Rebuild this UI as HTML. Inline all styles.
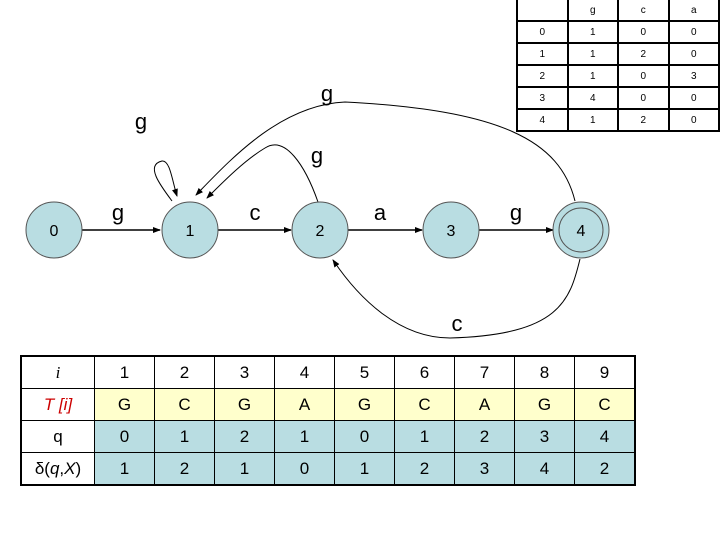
<!DOCTYPE html>
<html><head><style>
body{margin:0;width:720px;height:540px;background:#fff;overflow:hidden;position:relative;font-family:"Liberation Sans",sans-serif}
table{border-collapse:collapse;position:absolute}
#t1{left:516px;top:-2px;font-size:10px}
#t1 td{border:2px solid #000;width:52px;height:20px;text-align:center;padding:0}
#t2{left:20px;top:355px;font-size:17px;border:2px solid #000}
#t2 td{border:1px solid #000;height:31px;text-align:center;padding:0;width:59px}
#t2 td:first-child{width:72px;background:#fff}
.y td{background:#ffffcc}
.b td{background:#b9dde2}
</style></head><body>
<table id="t1">
<tr><td></td><td>g</td><td>c</td><td>a</td></tr>
<tr><td>0</td><td>1</td><td>0</td><td>0</td></tr>
<tr><td>1</td><td>1</td><td>2</td><td>0</td></tr>
<tr><td>2</td><td>1</td><td>0</td><td>3</td></tr>
<tr><td>3</td><td>4</td><td>0</td><td>0</td></tr>
<tr><td>4</td><td>1</td><td>2</td><td>0</td></tr>
</table>
<svg width="720" height="540" style="position:absolute;left:0;top:0" font-family="Liberation Sans" >
<defs><marker id="a" markerWidth="8" markerHeight="8" refX="7" refY="4" orient="auto" markerUnits="userSpaceOnUse"><path d="M0,1 L8,4 L0,7z" fill="#000"/></marker></defs>
<g stroke="#000" fill="none">
<line x1="82" y1="230" x2="160" y2="230" stroke-width="1.5" marker-end="url(#a)"/>
<line x1="218" y1="230" x2="291" y2="230" stroke-width="1.5" marker-end="url(#a)"/>
<line x1="348" y1="230" x2="422" y2="230" stroke-width="1.5" marker-end="url(#a)"/>
<line x1="479" y1="230" x2="553" y2="230" stroke-width="1.5" marker-end="url(#a)"/>
<path d="M172,201 C160,185 145,165 162,161 C170,160 172,180 177,196" marker-end="url(#a)"/>
<path d="M318,202 C305,165 285,135 265,148 C245,160 225,180 207,198" marker-end="url(#a)"/>
<path d="M575,201 C560,140 500,110 345,102 C280,105 230,160 196,195" marker-end="url(#a)"/>
<path d="M580,259 C570,300 560,335 450,338 C400,338 360,300 333,260" marker-end="url(#a)"/>
</g>
<g fill="#b9dde2" stroke="#555" stroke-width="1">
<circle cx="54" cy="230" r="28"/><circle cx="190" cy="230" r="28"/><circle cx="320" cy="230" r="28"/><circle cx="451" cy="230" r="28"/><circle cx="581" cy="230" r="28"/><circle cx="581" cy="230" r="22"/>
</g>
<g font-size="16" text-anchor="middle">
<text x="54" y="236">0</text><text x="190" y="236">1</text><text x="320" y="236">2</text><text x="451" y="236">3</text><text x="581" y="236">4</text>
</g>
<g font-size="22" text-anchor="middle">
<text x="118" y="220">g</text><text x="255" y="220">c</text><text x="380" y="220">a</text><text x="516" y="220">g</text>
<text x="141" y="129">g</text><text x="317" y="163">g</text><text x="327" y="101">g</text><text x="457" y="331">c</text>
</g>
</svg>
<table id="t2">
<tr><td style="font-family:'Liberation Serif';font-style:italic">i</td><td>1</td><td>2</td><td>3</td><td>4</td><td>5</td><td>6</td><td>7</td><td>8</td><td>9</td></tr>
<tr class="y"><td style="color:#c00;font-style:italic">T [<i>i</i>]</td><td>G</td><td>C</td><td>G</td><td>A</td><td>G</td><td>C</td><td>A</td><td>G</td><td>C</td></tr>
<tr class="b"><td>q</td><td>0</td><td>1</td><td>2</td><td>1</td><td>0</td><td>1</td><td>2</td><td>3</td><td>4</td></tr>
<tr class="b"><td>δ(<i>q</i>,<i>X</i>)</td><td>1</td><td>2</td><td>1</td><td>0</td><td>1</td><td>2</td><td>3</td><td>4</td><td>2</td></tr>
</table>
</body></html>
